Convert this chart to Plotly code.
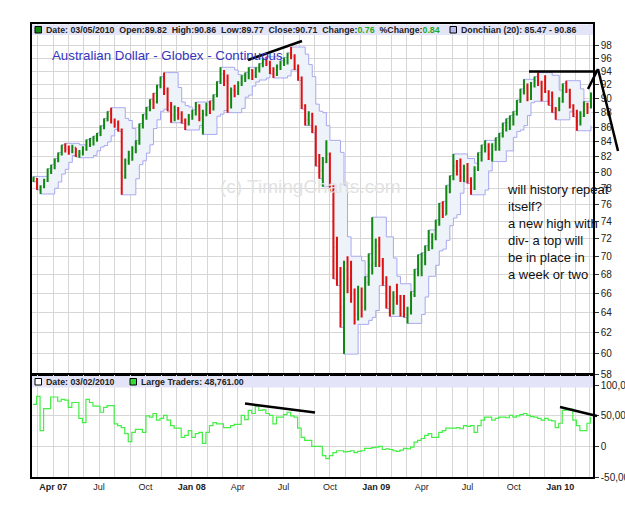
import plotly.graph_objects as go
from datetime import date, timedelta

# ---------------- data (weekly) ----------------
week0 = date(2007, 2, 19)

high = [
    79.5, 79.3, 78.4, 79.2, 80.5, 81.0, 81.8, 82.6, 83.6, 83.8,
    83.5, 83.6, 83.2, 82.9, 83.4, 84.3, 84.5, 84.8, 85.2, 86.2,
    87.2, 88.2, 88.7, 87.2, 86.9, 85.8, 81.8, 82.8, 83.4, 84.2,
    86.5, 87.8, 88.8, 89.9, 90.8, 92.0, 93.2, 93.8, 91.6, 89.5,
    89.0, 88.8, 88.2, 87.2, 87.8, 88.4, 89.5, 89.2, 88.4, 89.4,
    89.7, 90.6, 92.5, 94.6, 94.2, 93.5, 91.6, 92.0, 92.5, 93.4,
    93.8, 94.6, 94.3, 94.6, 95.2, 96.0, 96.2, 95.6, 94.6, 95.0,
    95.6, 96.1, 96.8, 97.7, 96.6, 95.0, 93.2, 89.2, 88.2, 88.0,
    86.2, 82.4, 82.0, 84.2, 82.6, 78.4, 72.2, 68.8, 69.5, 70.0,
    69.5, 66.5, 66.8, 66.6, 67.8, 70.3, 74.5, 72.0, 72.2, 69.8,
    67.8, 66.8, 66.2, 67.0, 65.8, 65.8, 64.6, 66.2, 68.6, 70.2,
    70.4, 71.2, 73.0, 72.6, 74.2, 76.2, 76.4, 78.4, 79.6, 82.4,
    81.6, 81.8, 81.0, 81.2, 79.4, 80.8, 82.6, 83.6, 84.2, 83.8,
    83.8, 84.6, 85.2, 86.6, 87.2, 87.6, 88.2, 89.8, 91.4, 92.8,
    92.2, 92.4, 93.2, 93.8, 92.6, 93.4, 91.2, 91.0, 88.8, 90.2,
    92.2, 92.6, 91.4, 89.2, 88.4, 88.2, 89.6, 89.4, 90.86,
]
low = [
    78.8, 77.8, 77.3, 78.0, 78.8, 79.8, 80.4, 81.3, 82.2, 82.6,
    82.3, 82.5, 82.0, 81.9, 82.2, 82.8, 83.3, 83.5, 84.0, 84.8,
    85.7, 86.8, 86.5, 85.9, 85.4, 77.2, 79.2, 81.0, 81.5, 82.5,
    83.6, 85.8, 87.0, 88.2, 88.5, 89.3, 91.5, 90.5, 88.2, 86.6,
    86.8, 87.0, 86.5, 85.6, 86.2, 87.0, 87.6, 86.8, 85.0, 87.5,
    87.8, 88.3, 90.2, 92.1, 91.8, 88.0, 88.6, 90.2, 90.5, 91.8,
    92.4, 92.8, 92.7, 93.0, 93.8, 94.6, 94.8, 93.6, 93.0, 93.3,
    94.2, 94.8, 95.0, 95.8, 94.2, 92.6, 88.5, 86.2, 86.2, 85.2,
    80.8, 79.2, 78.2, 81.2, 77.6, 67.5, 66.8, 62.5, 59.9, 66.0,
    65.0, 62.8, 63.2, 63.5, 64.2, 66.8, 68.0, 68.8, 68.8, 66.8,
    64.4, 63.6, 63.8, 64.8, 63.6, 63.5, 62.9, 63.8, 65.6, 67.8,
    67.8, 69.0, 70.6, 70.8, 71.8, 73.5, 74.4, 74.8, 77.4, 79.0,
    79.6, 78.8, 78.8, 78.6, 77.2, 77.8, 80.2, 81.4, 82.6, 81.6,
    81.4, 82.8, 82.8, 84.6, 85.4, 85.6, 86.2, 87.6, 89.4, 90.6,
    89.6, 89.8, 91.6, 91.8, 89.6, 90.8, 89.0, 88.0, 87.0, 88.2,
    89.4, 90.8, 88.6, 87.4, 85.5, 86.2, 87.4, 87.8, 88.6,
]
close = [
    79.2, 78.0, 78.2, 79.0, 80.2, 80.6, 81.5, 82.4, 83.2, 83.0,
    82.8, 83.2, 82.3, 82.5, 83.0, 84.0, 84.2, 84.5, 84.9, 85.9,
    86.9, 87.9, 86.8, 86.4, 85.6, 79.5, 81.5, 82.2, 83.0, 83.9,
    86.2, 87.5, 88.6, 89.6, 89.5, 91.8, 93.0, 91.0, 89.0, 87.6,
    88.3, 87.8, 86.9, 86.5, 87.5, 88.0, 89.0, 87.2, 87.8, 89.1,
    88.5, 90.4, 92.3, 93.6, 92.6, 90.6, 91.2, 91.0, 92.2, 93.0,
    93.4, 94.2, 93.3, 94.4, 95.0, 95.6, 95.2, 94.0, 93.5, 94.7,
    95.3, 95.6, 96.5, 96.2, 94.6, 93.0, 89.0, 87.0, 87.6, 85.6,
    81.4, 80.2, 81.3, 82.4, 78.0, 71.0, 68.0, 64.5, 68.5, 67.5,
    66.0, 63.8, 66.2, 64.6, 67.2, 69.0, 69.2, 71.2, 69.4, 67.2,
    65.0, 64.0, 65.6, 65.2, 63.9, 63.8, 64.3, 65.8, 68.2, 69.2,
    70.0, 71.0, 71.6, 72.2, 73.9, 75.8, 74.8, 78.0, 79.2, 80.8,
    80.2, 79.4, 80.4, 79.0, 78.0, 80.4, 82.2, 83.2, 83.4, 82.4,
    83.4, 84.2, 84.8, 86.3, 86.6, 87.2, 87.8, 89.5, 91.0, 91.6,
    90.0, 92.0, 92.6, 92.2, 91.5, 91.0, 90.4, 88.6, 88.4, 89.6,
    91.8, 91.2, 89.0, 87.8, 86.8, 87.6, 89.2, 88.8, 90.71,
]
first_open = 79.0

large_traders = [
    69, 82, 26, 62, 62, 81, 81, 74, 77, 76,
    64, 72, 72, 46, 39, 77, 72, 66, 66, 56,
    64, 67, 67, 37, 34, 31, 21, 8, 23, 28,
    28, 23, 50, 48, 54, 43, 46, 51, 43, 34,
    30, 30, 15, 18, 26, 15, 21, 23, 5, 23,
    34, 39, 37, 37, 31, 31, 34, 36, 36, 51,
    44, 59, 54, 66, 59, 60, 54, 51, 37, 48,
    48, 52, 56, 50, 48, 30, 15, 10, 10, 0,
    0, 0, -15, -20, -15, -10, -7, -7, -9, -8,
    -7, -10, -8, -7, -3, -3, -2, -1, 0, -5,
    -4, -5, -7, -8, -6, -3, -4, -1, 7, 10,
    13, 18, 21, 15, 15, 23, 26, 30, 30, 30,
    31, 29, 34, 33, 34, 23, 34, 43, 48, 48,
    43, 46, 48, 48, 47, 51, 48, 50, 52, 54,
    51, 49, 48, 46, 43, 46, 43, 42, 31, 38,
    59, 60, 61, 43, 34, 26, 26, 38, 48.761,
]  # thousands of contracts

price_ticks = list(range(58, 100, 2))
trader_ticks = [-50000, 0, 50000, 100000]
trader_tick_text = ["-50,000", "0", "50,000", "100,000"]
x_tick_dates = ["2007-04-01", "2007-07-01", "2007-10-01", "2008-01-01", "2008-04-01",
                "2008-07-01", "2008-10-01", "2009-01-01", "2009-04-01", "2009-07-01",
                "2009-10-01", "2010-01-01"]
x_tick_text = ["<b>Apr 07</b>", "Jul", "Oct", "<b>Jan 08</b>", "Apr", "Jul", "Oct",
               "<b>Jan 09</b>", "Apr", "Jul", "Oct", "<b>Jan 10</b>"]

# ---------------- derived tables ----------------
bar_dates = [week0 + timedelta(days=7 * i + 2) for i in range(len(close))]
cot_dates = [week0 + timedelta(days=7 * i + 1) for i in range(len(large_traders))]
opens = [first_open] + close[:-1]
highs = [max(h, o, c) for h, o, c in zip(high, opens, close)]
lows = [min(l, o, c) for l, o, c in zip(low, opens, close)]
don_hi = [max(highs[max(0, i - 3):i + 1]) for i in range(len(highs))]
don_lo = [min(lows[max(0, i - 3):i + 1]) for i in range(len(lows))]
traders = [v * 1000 for v in large_traders]

# ---------------- layout geometry ----------------
W, H = 625, 505
L, R, T, B = 32, 593, 24, 477
SPLIT = 375
PW, PH = R - L, B - T


def px(x):
    return (x - L) / PW


def py(y):
    return (B - y) / PH


GRID = "#d6d6d6"
DON_LINE = "#a8a8f0"
DON_FILL = "#eef2f9"
FONT = "Liberation Sans, Arial, sans-serif"
PRICE_RANGE = [1.762926, 2.005833]

fig = go.Figure()
fig.add_trace(go.Scatter(x=bar_dates, y=don_lo, mode="lines",
                         line=dict(color=DON_LINE, width=1, shape="hv"),
                         xaxis="x", yaxis="y", hoverinfo="skip"))
fig.add_trace(go.Scatter(x=bar_dates, y=don_hi, mode="lines", fill="tonexty",
                         fillcolor=DON_FILL,
                         line=dict(color=DON_LINE, width=1, shape="hv"),
                         xaxis="x", yaxis="y", hoverinfo="skip"))
fig.add_trace(go.Ohlc(x=bar_dates, open=opens, high=highs, low=lows, close=close,
                      increasing=dict(line=dict(color="#118811", width=2)),
                      decreasing=dict(line=dict(color="#dd1111", width=2)),
                      tickwidth=0.3, xaxis="x", yaxis="y3"))
fig.add_trace(go.Scatter(x=cot_dates, y=traders, mode="lines",
                         line=dict(color="#44ee44", width=1.2, shape="hv"),
                         xaxis="x2", yaxis="y2"))

split_p = py(SPLIT)
xcommon = dict(type="date", range=["2007-02-18", "2010-03-07"],
               tickvals=x_tick_dates, showgrid=True, gridcolor=GRID, gridwidth=1,
               minor=dict(dtick="M1", tick0="2007-01-01", showgrid=True,
                          gridcolor=GRID, gridwidth=1),
               showline=True, linecolor="black", linewidth=1.5, mirror=True,
               zeroline=False, ticks="", automargin=False)

fig.update_layout(
    width=W, height=H,
    margin=dict(l=L, r=W - R, t=T, b=H - B, pad=0, autoexpand=False),
    paper_bgcolor="white", plot_bgcolor="white",
    showlegend=False,
    font=dict(family=FONT, size=10, color="#222"),
    xaxis=dict(xcommon, domain=[0, 1], anchor="y", showticklabels=False,
               rangeslider=dict(visible=False)),
    xaxis2=dict(xcommon, domain=[0, 1], anchor="y2", matches="x",
                ticktext=x_tick_text, tickfont=dict(size=9, color="#222")),
    yaxis=dict(type="log", domain=[split_p, 1], side="right",
               range=PRICE_RANGE, tickvals=price_ticks,
               ticktext=[str(v) for v in price_ticks],
               showgrid=True, gridcolor=GRID, zeroline=False,
               showline=True, linecolor="black", linewidth=1.5, mirror=True,
               ticks="outside", ticklen=4, tickcolor="#333", automargin=False,
               tickfont=dict(size=10, color="#222")),
    yaxis3=dict(type="log", overlaying="y", side="right", range=PRICE_RANGE,
                showgrid=False, showticklabels=False, ticks="", showline=False,
                zeroline=False, automargin=False),
    yaxis2=dict(domain=[0, split_p], side="right", range=[-50000, 117000],
                tickvals=trader_ticks, ticktext=trader_tick_text,
                showgrid=True, gridcolor=GRID, zeroline=False,
                showline=True, linecolor="black", linewidth=1.5, mirror=True,
                ticks="outside", ticklen=4, tickcolor="#333", automargin=False,
                tickfont=dict(size=10, color="#222")),
)

shapes = []
# header bars
shapes.append(dict(type="rect", xref="paper", yref="paper", x0=0, x1=1,
                   y0=py(35), y1=py(24.5), fillcolor="#e4e4f8", line=dict(width=0), layer="above"))
shapes.append(dict(type="rect", xref="paper", yref="paper", x0=0, x1=1,
                   y0=py(387.5), y1=py(376), fillcolor="#e4e4f8", line=dict(width=0), layer="above"))
# legend squares
for (x0, y0, col) in [(35, 26.5, "#118811"), (450, 26.5, "#b8b8f0"),
                      (35, 378.5, "white"), (130, 378.5, "#33dd33")]:
    shapes.append(dict(type="rect", xref="paper", yref="paper",
                       x0=px(x0), x1=px(x0 + 6.5), y0=py(y0 + 6.5), y1=py(y0),
                       fillcolor=col, line=dict(color="black", width=1), layer="above"))
# hand-drawn comment strokes (pixel positions of the drawings)
strokes = [((248, 60), (302, 41)), ((529, 71.5), (597, 71.5)),
           ((588, 89), (598, 69)), ((598, 69), (618, 151)),
           ((245, 403.5), (315, 412.5)), ((560, 407), (597, 416))]
for (a, b) in strokes:
    shapes.append(dict(type="line", xref="paper", yref="paper",
                       x0=px(a[0]), y0=py(a[1]), x1=px(b[0]), y1=py(b[1]),
                       line=dict(color="black", width=2.5), layer="above"))
fig.update_layout(shapes=shapes)

G = "#22aa22"
hdr = ("<b>Date: 03/05/2010&nbsp; Open:89.82&nbsp; High:90.86&nbsp; Low:89.77&nbsp; "
       "Close:90.71&nbsp; Change:<span style='color:%s'>0.76</span>&nbsp; "
       "%%Change:<span style='color:%s'>0.84</span></b>") % (G, G)
ann = [
    dict(text=hdr, x=px(44), y=py(30), xanchor="left", yanchor="middle",
         font=dict(size=8.8, color="#222")),
    dict(text="<b>Donchian (20): 85.47 - 90.86</b>", x=px(459), y=py(30),
         xanchor="left", yanchor="middle", font=dict(size=8.8, color="#222")),
    dict(text="<b>Date: 03/02/2010</b>", x=px(44), y=py(382), xanchor="left",
         yanchor="middle", font=dict(size=8.8, color="#222")),
    dict(text="<b>Large Traders: 48,761.00</b>", x=px(139), y=py(382), xanchor="left",
         yanchor="middle", font=dict(size=8.8, color="#222")),
    dict(text="Australian Dollar - Globex - Continuous", x=px(50), y=py(55),
         xanchor="left", yanchor="middle", font=dict(size=13.3, color="#3535c0")),
    dict(text="(c) TimingCharts.com", x=px(310), y=py(187), xanchor="center",
         yanchor="middle", font=dict(size=19, color="#e2e2e2")),
    dict(text="will history repeat<br>itself?<br>a new high with<br>div- a top will"
              "<br>be in place in<br>a week or two",
         x=px(505), y=py(180), xanchor="left", yanchor="top", align="left",
         font=dict(size=13, color="#111")),
]
for a in ann:
    a.update(xref="paper", yref="paper", showarrow=False)
fig.update_layout(annotations=ann)

fig.write_html("out.html")
